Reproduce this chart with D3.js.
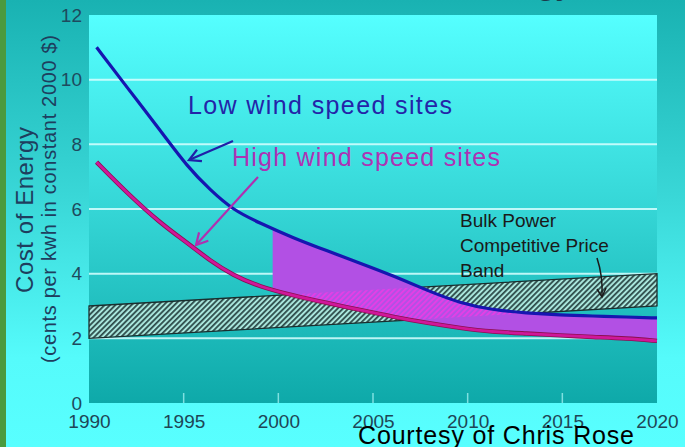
<!DOCTYPE html>
<html><head><meta charset="utf-8">
<script src="https://cdn.jsdelivr.net/npm/d3@7"></script>
<style>body{margin:0;padding:0;overflow:hidden}svg{display:block}</style>
</head><body>
<svg id="c" width="685" height="447"></svg>
<script>
// ---- data ----
const years      = [1990.4, 1992, 1993.75, 1995.2, 1996.4, 1997.6, 1999, 2000.8, 2002.6, 2004.3, 2006.1, 2007.9, 2009.6, 2011.3, 2013.1, 2014.9, 2016.6, 2018.4, 2020];
const lowWind    = [11.0, 9.77, 8.44, 7.3, 6.59, 5.97, 5.57, 5.10, 4.70, 4.33, 3.93, 3.47, 3.09, 2.88, 2.78, 2.72, 2.69, 2.66, 2.63];
const highWind   = [7.45, 6.5, 5.57, 4.95, 4.4, 3.95, 3.6, 3.32, 3.09, 2.88, 2.66, 2.47, 2.32, 2.2, 2.15, 2.09, 2.04, 2.0, 1.92];
const bandYears  = [1990, 2020];
const bandLow    = [2, 3];
const bandHigh   = [3, 4];
const fillStart  = 1999.7;
const xTicks     = [1990, 1995, 2000, 2005, 2010, 2015, 2020];
const yTicks     = [0, 2, 4, 6, 8, 10, 12];

const svg = d3.select("#c");
const defs = svg.append("defs");
const x = d3.scaleLinear().domain([1990, 2020]).range([89, 657]);
const y = d3.scaleLinear().domain([0, 12]).range([403, 15]);

// gradients
const bg = defs.append("linearGradient").attr("id","bg").attr("x1",0).attr("y1",0).attr("x2",0).attr("y2",1);
bg.append("stop").attr("offset","0").attr("stop-color","#19b2b2");
bg.append("stop").attr("offset","0.45").attr("stop-color","#3ad8d8");
bg.append("stop").attr("offset","0.8").attr("stop-color","#55fbfb");
bg.append("stop").attr("offset","1").attr("stop-color","#58ffff");
const pg = defs.append("linearGradient").attr("id","pg").attr("x1",0).attr("y1",0).attr("x2",0).attr("y2",1);
pg.append("stop").attr("offset","0").attr("stop-color","#55ffff");
pg.append("stop").attr("offset","0.5").attr("stop-color","#35d6d6");
pg.append("stop").attr("offset","1").attr("stop-color","#0ea9a9");

// hatch patterns
const h1 = defs.append("pattern").attr("id","hatch").attr("patternUnits","userSpaceOnUse")
  .attr("width",3.8).attr("height",3.8).attr("patternTransform","rotate(45)");
h1.append("rect").attr("width",3.8).attr("height",3.8).attr("fill","#a9e6dc");
h1.append("line").attr("x1",0.9).attr("y1",0).attr("x2",0.9).attr("y2",3.8).attr("stroke","#203a3a").attr("stroke-width",1.6);
const h2 = defs.append("pattern").attr("id","hatch2").attr("patternUnits","userSpaceOnUse")
  .attr("width",3.8).attr("height",3.8).attr("patternTransform","rotate(45)");
h2.append("line").attr("x1",0.9).attr("y1",0).attr("x2",0.9).attr("y2",3.8).attr("stroke","#e63ee6").attr("stroke-width",1.8);

// background
svg.append("rect").attr("width",685).attr("height",447).attr("fill","url(#bg)");
svg.append("rect").attr("width",6).attr("height",447).attr("fill","#4b9a3e");

// title descenders at top edge
svg.append("text").attr("x",572).attr("y",-5).attr("text-anchor","end")
  .attr("font-family","Liberation Sans, Arial, sans-serif").attr("font-size",30).attr("font-weight","bold")
  .attr("fill","#1a3a4a").text("Cost of Energy");

// plot area
svg.append("rect").attr("x",x(1990)).attr("y",y(12)).attr("width",x(2020)-x(1990)).attr("height",y(0)-y(12)).attr("fill","url(#pg)");

// gridlines
svg.append("g").selectAll("line").data(yTicks.filter(d=>d>0 && d<12)).join("line")
  .attr("x1",x(1990)).attr("x2",x(2020)).attr("y1",d=>y(d)).attr("y2",d=>y(d))
  .attr("stroke","#d8ffff").attr("stroke-opacity",0.85).attr("stroke-width",2);

// x axis
const ff = "Liberation Sans, Arial, sans-serif";
const xa = svg.append("g").attr("transform",`translate(0,${y(0)})`)
  .call(d3.axisBottom(x).tickValues(xTicks).tickFormat(d3.format("d")).tickSize(0).tickPadding(12));
xa.select(".domain").remove();
xa.selectAll("text").attr("font-family",ff).attr("font-size",19).attr("fill","#1e4656");
svg.append("g").selectAll("line").data(xTicks.slice(1,-1)).join("line")
  .attr("x1",d=>x(d)).attr("x2",d=>x(d)).attr("y1",y(0)).attr("y2",y(0)-10)
  .attr("stroke","#7fe0e0").attr("stroke-width",1.5);

// y axis
const ya = svg.append("g").attr("transform",`translate(${x(1990)},0)`)
  .call(d3.axisLeft(y).tickValues(yTicks).tickSize(0).tickPadding(7));
ya.select(".domain").remove();
ya.selectAll("text").attr("font-family",ff).attr("font-size",19).attr("fill","#1e4a5e");

// band
const bandData = bandYears.map((yr,i)=>({yr, lo:bandLow[i], hi:bandHigh[i]}));
const bandArea = d3.area().x(d=>x(d.yr)).y0(d=>y(d.lo)).y1(d=>y(d.hi));
svg.append("path").attr("d",bandArea(bandData)).attr("fill","url(#hatch)").attr("stroke","#1a2e2e").attr("stroke-width",1.3);

// fill between curves
const cd = years.map((yr,i)=>({yr, lo:lowWind[i], hi:highWind[i]}));
const curve = d3.curveBasis;
defs.append("clipPath").attr("id","fclip").append("rect")
  .attr("x",x(fillStart)).attr("y",0).attr("width",x(2020)-x(fillStart)).attr("height",447);
const between = d3.area().x(d=>x(d.yr)).y0(d=>y(d.hi)).y1(d=>y(d.lo)).curve(curve);
defs.append("clipPath").attr("id","bclip").append("path").attr("d",between(cd));
svg.append("path").attr("d",between(cd)).attr("fill","#b250e4").attr("clip-path","url(#fclip)");
svg.append("g").attr("clip-path","url(#fclip)")
  .append("path").attr("d",bandArea(bandData)).attr("fill","url(#hatch2)").attr("clip-path","url(#bclip)");

// curves
const lowLine = d3.line().x(d=>x(d.yr)).y(d=>y(d.lo)).curve(curve);
const highLine = d3.line().x(d=>x(d.yr)).y(d=>y(d.hi)).curve(curve);
svg.append("path").attr("d",highLine(cd)).attr("fill","none").attr("stroke","#8a1050").attr("stroke-width",4.4);
svg.append("path").attr("d",highLine(cd)).attr("fill","none").attr("stroke","#d0179a").attr("stroke-width",2.8);
svg.append("path").attr("d",lowLine(cd)).attr("fill","none").attr("stroke","#1616b0").attr("stroke-width",3.2);

// annotations
svg.append("text").attr("x",188).attr("y",114).attr("font-family",ff).attr("font-size",25)
  .attr("textLength",264).attr("fill","#2424a8").text("Low wind speed sites");
svg.append("text").attr("x",232).attr("y",166).attr("font-family",ff).attr("font-size",25)
  .attr("textLength",268).attr("fill","#ae32b4").text("High wind speed sites");

function arrow(x1,y1,x2,y2,color,w,hl){
  const a = Math.atan2(y2-y1,x2-x1), s = 0.5;
  svg.append("line").attr("x1",x1).attr("y1",y1).attr("x2",x2).attr("y2",y2).attr("stroke",color).attr("stroke-width",w);
  svg.append("path").attr("d",`M${x2+hl*Math.cos(a+Math.PI-s)},${y2+hl*Math.sin(a+Math.PI-s)}L${x2},${y2}L${x2+hl*Math.cos(a+Math.PI+s)},${y2+hl*Math.sin(a+Math.PI+s)}`)
    .attr("fill","none").attr("stroke",color).attr("stroke-width",w);
}
arrow(233,141,189,160,"#2020a8",2.2,13);
arrow(258,177,196,245,"#b030b0",2.2,13);

const bt = ["Bulk Power","Competitive Price","Band"];
svg.append("g").selectAll("text").data(bt).join("text")
  .attr("x",460).attr("y",(d,i)=>227+i*25).attr("font-family",ff).attr("font-size",19).attr("fill","#1a1a1a").text(d=>d);
svg.append("path").attr("d","M597,258 Q603,276 602,296").attr("fill","none").attr("stroke","#1a1a1a").attr("stroke-width",1.5);
svg.append("path").attr("d","M597,289 L602,297 L606,288").attr("fill","none").attr("stroke","#1a1a1a").attr("stroke-width",1.5);

// y title
svg.append("text").attr("transform","translate(33,210) rotate(-90)").attr("text-anchor","middle")
  .attr("font-family",ff).attr("font-size",24).attr("textLength",166).attr("fill","#1e3e5e").text("Cost of Energy");
svg.append("text").attr("transform","translate(56,199) rotate(-90)").attr("text-anchor","middle")
  .attr("font-family",ff).attr("font-size",20).attr("textLength",328).attr("fill","#1e3e5e").text("(cents per kwh in constant 2000 $)");

// courtesy
svg.append("text").attr("x",358).attr("y",444).attr("font-family","Liberation Sans Narrow, Arial Narrow, Liberation Sans, sans-serif")
  .attr("font-size",25).attr("textLength",276).attr("fill","#000").text("Courtesy of Chris Rose");
</script>
</body></html>
